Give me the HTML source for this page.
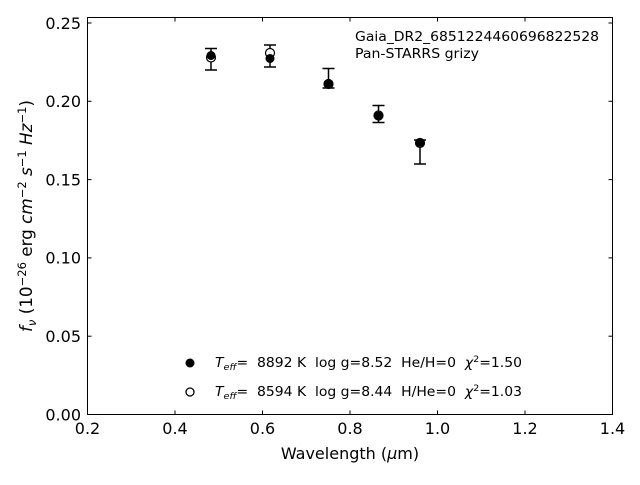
<!DOCTYPE html>
<html><head><meta charset="utf-8"><style>
body{margin:0;background:#fff;}
svg text{font-family:"DejaVu Sans","Liberation Sans",sans-serif;white-space:pre;}
</style></head><body>
<svg width="640" height="480" viewBox="0 0 640 480" xmlns="http://www.w3.org/2000/svg" xml:space="preserve">
<rect x="0" y="0" width="640" height="480" fill="#fff"/>
<rect x="87.5" y="17.5" width="525" height="397" fill="none" stroke="#000" stroke-width="1"/>
<g stroke="#000" stroke-width="1">
<line x1="87.5" y1="414.5" x2="87.5" y2="410.5"/><line x1="87.5" y1="17.5" x2="87.5" y2="21.5"/>
<line x1="175" y1="414.5" x2="175" y2="410.5"/><line x1="175" y1="17.5" x2="175" y2="21.5"/>
<line x1="262.5" y1="414.5" x2="262.5" y2="410.5"/><line x1="262.5" y1="17.5" x2="262.5" y2="21.5"/>
<line x1="350" y1="414.5" x2="350" y2="410.5"/><line x1="350" y1="17.5" x2="350" y2="21.5"/>
<line x1="437.5" y1="414.5" x2="437.5" y2="410.5"/><line x1="437.5" y1="17.5" x2="437.5" y2="21.5"/>
<line x1="525" y1="414.5" x2="525" y2="410.5"/><line x1="525" y1="17.5" x2="525" y2="21.5"/>
<line x1="87.5" y1="336.2" x2="91.5" y2="336.2"/><line x1="612.5" y1="336.2" x2="608.5" y2="336.2"/>
<line x1="87.5" y1="257.9" x2="91.5" y2="257.9"/><line x1="612.5" y1="257.9" x2="608.5" y2="257.9"/>
<line x1="87.5" y1="179.6" x2="91.5" y2="179.6"/><line x1="612.5" y1="179.6" x2="608.5" y2="179.6"/>
<line x1="87.5" y1="101.3" x2="91.5" y2="101.3"/><line x1="612.5" y1="101.3" x2="608.5" y2="101.3"/>
<line x1="87.5" y1="23" x2="91.5" y2="23"/><line x1="612.5" y1="23" x2="608.5" y2="23"/>
</g>
<g font-size="16" fill="#000" text-anchor="middle">
<text x="87.5" y="434">0.2</text><text x="175" y="434">0.4</text><text x="262.5" y="434">0.6</text>
<text x="350" y="434">0.8</text><text x="437.5" y="434">1.0</text><text x="525" y="434">1.2</text><text x="612.5" y="434">1.4</text>
</g>
<g font-size="16" fill="#000" text-anchor="end">
<text x="81" y="420.5">0.00</text><text x="81" y="342">0.05</text><text x="81" y="263.5">0.10</text>
<text x="81" y="185.5">0.15</text><text x="81" y="107">0.20</text><text x="81" y="29">0.25</text>
</g>
<text x="350" y="459" font-size="16" text-anchor="middle">Wavelength (<tspan font-style="italic">μ</tspan>m)</text>
<text transform="translate(32,216) rotate(-90)" font-size="16.8" text-anchor="middle"><tspan font-style="italic">f<tspan font-size="11.5" dy="4">ν</tspan></tspan><tspan dy="-4"> (10</tspan><tspan font-size="11.5" dy="-6">−26</tspan><tspan dy="6"> erg </tspan><tspan font-style="italic">cm</tspan><tspan font-size="11.5" dy="-6">−2</tspan><tspan dy="6" font-style="italic"> s</tspan><tspan font-size="11.5" dy="-6">−1</tspan><tspan dy="6" font-style="italic"> Hz</tspan><tspan font-size="11.5" dy="-6">−1</tspan><tspan dy="6">)</tspan></text>
<text x="355" y="41" font-size="13" textLength="244" lengthAdjust="spacingAndGlyphs">Gaia_DR2_6851224460696822528</text>
<text x="355" y="58" font-size="13" textLength="124" lengthAdjust="spacingAndGlyphs">Pan-STARRS grizy</text>
<g stroke="#000" stroke-width="1.5">
<line x1="211" y1="48.5" x2="211" y2="70"/><line x1="205" y1="48.5" x2="217" y2="48.5"/><line x1="205" y1="70" x2="217" y2="70"/>
<line x1="270" y1="45" x2="270" y2="67"/><line x1="264" y1="45" x2="276" y2="45"/><line x1="264" y1="67" x2="276" y2="67"/>
<line x1="328.5" y1="68.5" x2="328.5" y2="88"/><line x1="322.5" y1="68.5" x2="334.5" y2="68.5"/><line x1="322.5" y1="88" x2="334.5" y2="88"/>
<line x1="378.5" y1="105.5" x2="378.5" y2="122.5"/><line x1="372.5" y1="105.5" x2="384.5" y2="105.5"/><line x1="372.5" y1="122.5" x2="384.5" y2="122.5"/>
<line x1="420" y1="140" x2="420" y2="164"/><line x1="414" y1="164" x2="426" y2="164"/><line x1="414" y1="140" x2="426" y2="140"/>
</g>
<g fill="#fff" stroke="#000" stroke-width="1.2">
<circle cx="211" cy="57.5" r="4.5"/><circle cx="270" cy="53" r="4.5"/><circle cx="328.5" cy="84" r="4.5"/><circle cx="378.5" cy="115.5" r="4.5"/><circle cx="420" cy="143" r="4.5"/>
</g>
<g fill="#000">
<circle cx="211" cy="55.5" r="4.5"/><circle cx="270" cy="58.5" r="4.5"/><circle cx="328.5" cy="84" r="4.5"/><circle cx="378.5" cy="116" r="4.5"/><circle cx="420" cy="142.5" r="4.5"/>
</g>
<circle cx="190" cy="363" r="4.5" fill="#000"/>
<circle cx="190" cy="392" r="4" fill="#fff" stroke="#000" stroke-width="1.3"/>
<g font-size="13">
<text x="215" y="367" textLength="307" lengthAdjust="spacingAndGlyphs"><tspan font-style="italic">T</tspan><tspan font-style="italic" font-size="9" dy="3">eff</tspan><tspan dy="-3">=  8892 K  log g=8.52  He/H=0  </tspan><tspan font-style="italic">χ</tspan><tspan font-size="9" dy="-5">2</tspan><tspan dy="5">=1.50</tspan></text>
<text x="215" y="396" textLength="307" lengthAdjust="spacingAndGlyphs"><tspan font-style="italic">T</tspan><tspan font-style="italic" font-size="9" dy="3">eff</tspan><tspan dy="-3">=  8594 K  log g=8.44  H/He=0  </tspan><tspan font-style="italic">χ</tspan><tspan font-size="9" dy="-5">2</tspan><tspan dy="5">=1.03</tspan></text>
</g>
</svg>
</body></html>
